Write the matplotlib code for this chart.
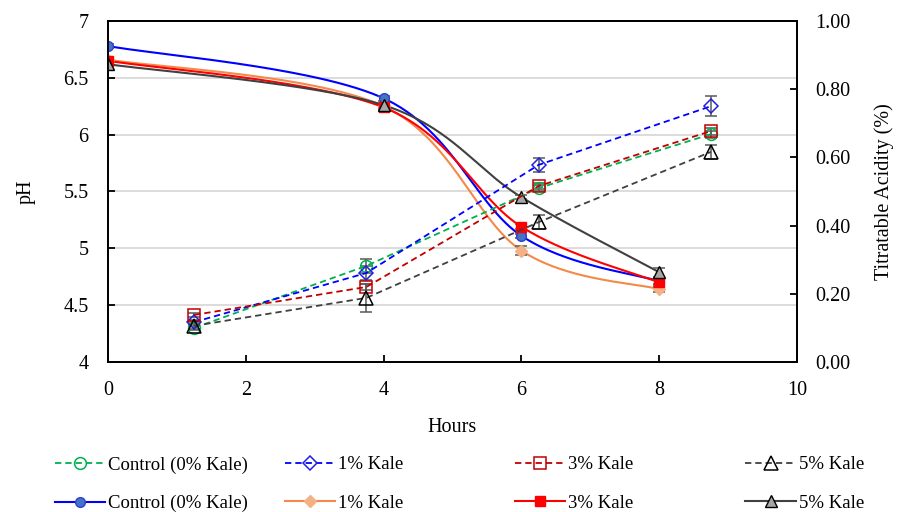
import numpy as np
import matplotlib.pyplot as plt
from matplotlib.lines import Line2D

plt.rcParams['font.family'] = ['Liberation Serif', 'DejaVu Serif']
plt.rcParams['font.size'] = 14.5

# pH readings (solid, smoothed) taken at 0, 4, 6 and 8 h
ph_hours = [0, 4, 6, 8]
ph_control = [6.78, 6.32, 5.11, 4.71]
ph_kale1 = [6.66, 6.25, 4.98, 4.64]
ph_kale3 = [6.65, 6.24, 5.19, 4.70]
ph_kale5 = [6.62, 6.26, 5.45, 4.79]
ph_err_control = [0.02, 0.02, 0.02, 0.02]
ph_err_kale1 = [0.02, 0.02, 0.04, 0.02]
ph_err_kale3 = [0.02, 0.02, 0.02, 0.02]
ph_err_kale5 = [0.02, 0.02, 0.02, 0.04]

# titratable acidity (dashed) plotted with a small offset on the time axis
ta_hours = [1.25, 3.75, 6.25, 8.75]
ta_control = [0.100, 0.282, 0.510, 0.668]
ta_kale1 = [0.117, 0.261, 0.578, 0.750]
ta_kale3 = [0.138, 0.220, 0.516, 0.677]
ta_kale5 = [0.106, 0.188, 0.410, 0.616]
ta_err_control = [0.005, 0.020, 0.010, 0.010]
ta_err_kale1 = [0.005, 0.020, 0.020, 0.030]
ta_err_kale3 = [0.005, 0.010, 0.010, 0.010]
ta_err_kale5 = [0.010, 0.040, 0.020, 0.020]

labels = ['Control (0% Kale)', '1% Kale', '3% Kale', '5% Kale']


def smooth(x, y, n=60):
    """Catmull-Rom style bezier through the points, like a spreadsheet smoothed line."""
    p = np.column_stack([x, y]).astype(float)
    pts = np.vstack([p[0], p, p[-1]])
    out = []
    t = np.linspace(0, 1, n)[:, None]
    for i in range(1, len(pts) - 2):
        p0, p1, p2, p3 = pts[i - 1], pts[i], pts[i + 1], pts[i + 2]
        c1 = p1 + (p2 - p0) / 6
        c2 = p2 - (p3 - p1) / 6
        seg = ((1 - t) ** 3) * p1 + 3 * ((1 - t) ** 2) * t * c1 \
            + 3 * (1 - t) * t ** 2 * c2 + t ** 3 * p2
        out.append(seg if i == 1 else seg[1:])
    seg = np.vstack(out)
    return seg[:, 0], seg[:, 1]


fig = plt.figure(figsize=(8.98, 5.12), dpi=100)
ax = fig.add_axes([0.1203, 0.293, 0.7672, 0.666])
ax2 = ax.twinx()

err_kw = dict(ecolor='#595959', elinewidth=1.1, capsize=4, capthick=1.1, linestyle='none')

# pH curves
ph_series = [
    (ph_control, ph_err_control, '#0000FF', 'o', '#4472C4', '#2F3FD0', 7),
    (ph_kale1, ph_err_kale1, '#F4894A', 'D', '#F4B183', '#F4B183', 6.5),
    (ph_kale3, ph_err_kale3, '#FF0000', 's', '#FF0000', '#FF0000', 7),
    (ph_kale5, ph_err_kale5, '#404040', '^', '#A6A6A6', '#000000', 9),
]
ph_handles = []
for vals, err, col, mk, fc, ec, ms in ph_series:
    sx, sy = smooth(ph_hours, vals)
    ax.plot(sx, sy, color=col, lw=1.5, zorder=3)
    ax.errorbar(ph_hours, vals, yerr=err, zorder=3, **err_kw)
    ax.plot(ph_hours, vals, linestyle='none', marker=mk, ms=ms,
            mfc=fc, mec=ec, mew=1.0, zorder=4)
    ph_handles.append(Line2D([], [], color=col, lw=1.5, marker=mk, ms=ms,
                             mfc=fc, mec=ec, mew=1.0))

# titratable acidity lines
ta_series = [
    (ta_control, ta_err_control, '#00B050', 'o', '#00B050', 8.5),
    (ta_kale1, ta_err_kale1, '#0000FF', 'D', '#2020E0', 7.5),
    (ta_kale3, ta_err_kale3, '#C00000', 's', '#C00000', 9),
    (ta_kale5, ta_err_kale5, '#404040', '^', '#000000', 9.5),
]
ta_handles = []
for vals, err, col, mk, ec, ms in ta_series:
    ax2.errorbar(ta_hours, vals, yerr=err, zorder=3, **err_kw)
    ax2.plot(ta_hours, vals, color=col, lw=1.3, dashes=(3.5, 2.2),
             marker=mk, ms=ms, mfc='none', mec=ec, mew=1.1, zorder=4)
    ta_handles.append(Line2D([], [], color=col, lw=1.3, dashes=(3.5, 2.2),
                             marker=mk, ms=ms, mfc='none', mec=ec, mew=1.1))

ax.set_xlim(0, 10)
ax.set_ylim(4, 7)
ax.set_xticks([0, 2, 4, 6, 8, 10])
ax.set_yticks([4, 4.5, 5, 5.5, 6, 6.5, 7])
ax.set_yticklabels(['4', '4.5', '5', '5.5', '6', '6.5', '7'])
ax2.set_ylim(0, 1)
ax2.set_yticks(np.arange(0, 1.01, 0.2))
ax2.set_yticklabels([f'{v:.2f}' for v in np.arange(0, 1.01, 0.2)])

ax.yaxis.grid(True, color='#D9D9D9', lw=1.3)
ax.set_axisbelow(True)
for a in (ax, ax2):
    for s in a.spines.values():
        s.set_color('black')
        s.set_linewidth(1.3)
ax.tick_params(axis='both', direction='in', length=5, width=1.3, pad=14)
ax2.tick_params(axis='y', direction='in', length=5, width=1.3, pad=13)

ax.set_xlabel('Hours', labelpad=13)
ax.set_ylabel('pH', labelpad=20)
ax2.set_ylabel('Titratable Acidity (%)', labelpad=17)

# one small legend per sample: dashed (acidity) above solid (pH)
for i, x0 in enumerate([0.061, 0.317, 0.573, 0.830]):
    fig.legend([ta_handles[i], ph_handles[i]], [labels[i], labels[i]],
               loc='upper left', bbox_to_anchor=(x0, 0.109), frameon=False,
               borderpad=0, borderaxespad=0, handlelength=2.7,
               handletextpad=0.15, labelspacing=1.15, fontsize=13.5)

fig.savefig('out.png', dpi=100)
